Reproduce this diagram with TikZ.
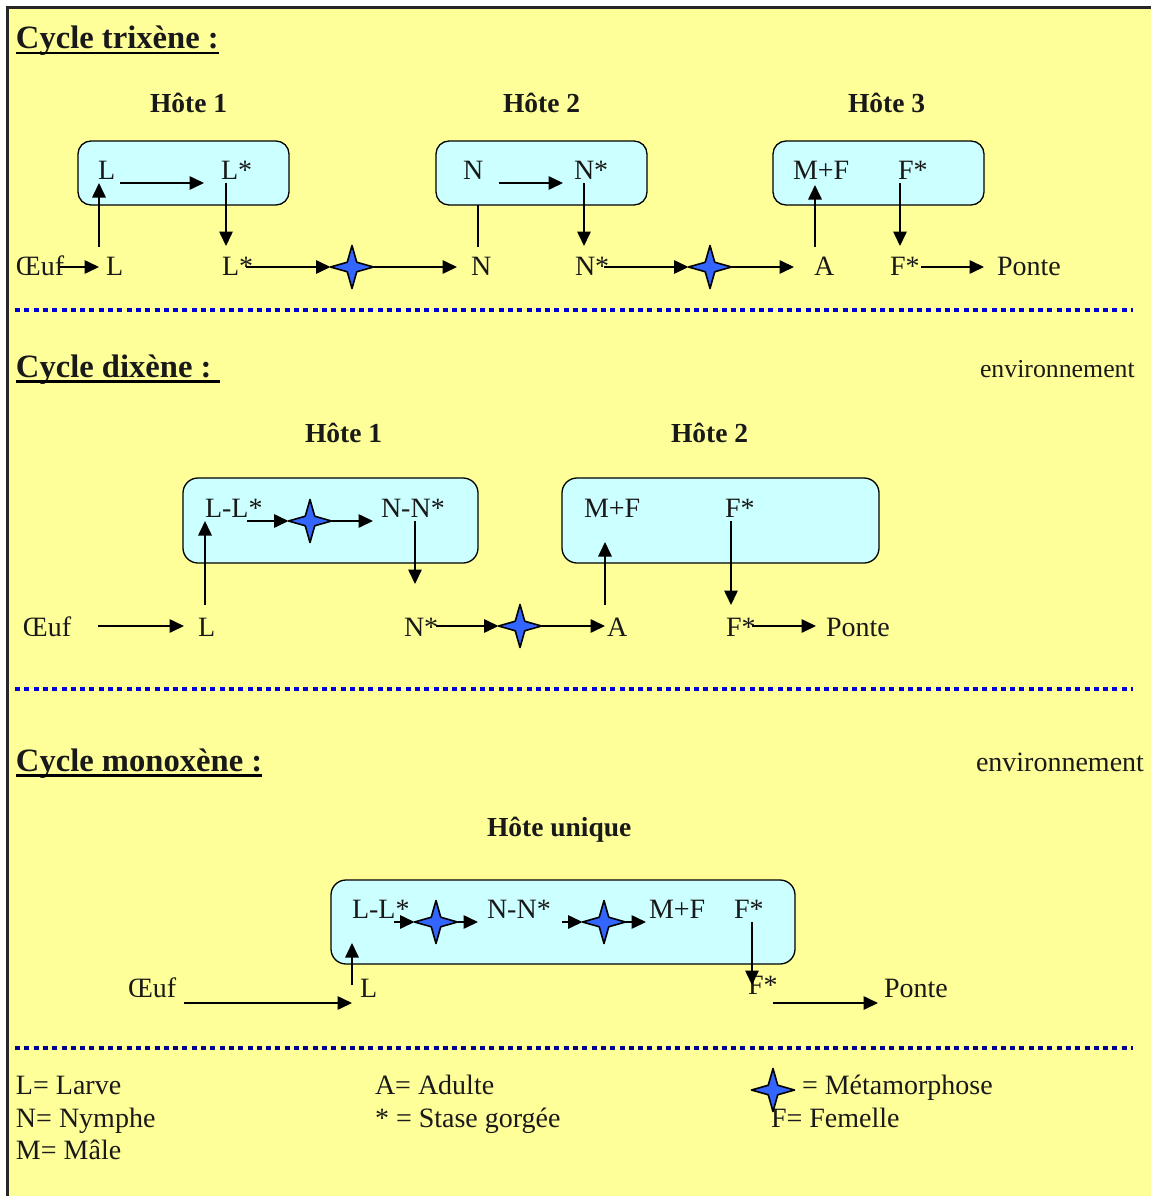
\documentclass[tikz,border=0pt]{standalone}
\usepackage{fontspec}
\setmainfont{Liberation Serif}
\usetikzlibrary{arrows.meta}
\usetikzlibrary{shapes.geometric}
\definecolor{pagefill}{HTML}{FFFF99}
\definecolor{boxfill}{HTML}{CCFFFF}
\definecolor{starfill}{HTML}{3366FF}
\tikzset{
	every node/.style={anchor=base west,inner sep=0pt,outer sep=0pt,text=black!90},
	every path/.style={line width=1.6pt},
	>={Triangle[length=14.5pt,width=13.5pt]},
	txt/.style={font=\fontsize{28}{30}\selectfont},
	hote/.style={font=\fontsize{27.5}{30}\bfseries\selectfont},
	titre/.style={font=\fontsize{32.6}{38}\bfseries\selectfont},
	hostbox/.style={draw,fill=boxfill,rounded corners=13pt,anchor=north west,line width=1.3pt},
	meta/.style={draw=black,fill=starfill,star,star points=4,star point ratio=3.2,minimum size=43pt,anchor=center,line join=round},
	sepline/.style={line width=4pt,draw=blue!85!black,dash pattern=on 5pt off 4.3pt},
}
\begin{document}
\begin{tikzpicture}[x=1pt,y=-1pt]
	\useasboundingbox (0,0) rectangle (1151,1196);
	
	%background.....................
	\fill [pagefill] (7,8) rectangle (1151,1196);
	\draw [line width=3pt,black!85] (7,1196) to (7,8) to (1151,8);
	
	%separators......................
	\draw [sepline] (15,309.5) to (1133,309.5);
	\draw [sepline] (15,689) to (1133,689);
	\draw [sepline,draw=blue!55!black] (15,1048) to (1133,1048);
	
	% trixene titles...................
	\node [titre] (t1) at (16,48.5) {Cycle trixène :};
	\draw [line width=2.4pt] ([shift={(0,4.5)}]t1.base west) to ([shift={(0,4.5)}]t1.base east);
	\node [hote] (h11) at (150,113) {Hôte 1};
	\node [hote] (h12) at (503,113) {Hôte 2};
	\node [hote] (h13) at (848,113) {Hôte 3};
	
	% trixene boxes....................
	\node [hostbox,minimum width=211pt,minimum height=64pt] (b11) at (78,141) {};
	\node [hostbox,minimum width=211pt,minimum height=64pt] (b12) at (436,141) {};
	\node [hostbox,minimum width=211pt,minimum height=64pt] (b13) at (773,141) {};
	
	% trixene labels...................
	\node [txt] (l1) at (98,179) {L};
	\node [txt] (ls1) at (221,179) {L*};
	\node [txt] (n1) at (463,179) {N};
	\node [txt] (ns1) at (574,179) {N*};
	\node [txt] (mf1) at (793,179) {M+F};
	\node [txt] (fs1) at (898,179) {F*};
	\node [txt] (oe1) at (16,275) {Œuf};
	\node [txt] (l2) at (106,275) {L};
	\node [txt] (ls2) at (222,275) {L*};
	\node [txt] (n2) at (471,275) {N};
	\node [txt] (ns2) at (575,275) {N*};
	\node [txt] (a1) at (814,275) {A};
	\node [txt] (fs2) at (890,275) {F*};
	\node [txt] (po1) at (997,275) {Ponte};
	\node [meta] (m1) at (352,267) {};
	\node [meta] (m2) at (710,267) {};
	
	% trixene arrows...................
	\draw [->] ([shift={(22,4)}]l1.base west) to ([shift={(-17,4)}]ls1.base west);
	\draw [->] ([shift={(-7,-28)}]l2.base west) to ([shift={(1,4)}]l1.base west);
	\draw [->] ([shift={(5,4)}]ls1.base west) to ([shift={(4,-29)}]ls2.base west);
	\draw [->] ([shift={(44,-8)}]oe1.base west) to ([shift={(-7,-8)}]l2.base west);
	\draw [->] ([shift={(24,-8)}]ls2.base west) to (m1.west);
	\draw [->] (m1.east) to ([shift={(-14,-8)}]n2.base west);
	\draw ([shift={(7,0)}]b12.south west -| n2.base west) to ([shift={(7,-28)}]n2.base west);
	\draw [->] ([shift={(36,4)}]n1.base west) to ([shift={(-11,4)}]ns1.base west);
	\draw [->] ([shift={(10,4)}]ns1.base west) to ([shift={(9,-29)}]ns2.base west);
	\draw [->] ([shift={(29,-8)}]ns2.base west) to (m2.west);
	\draw [->] (m2.east) to ([shift={(-20,-8)}]a1.base west);
	\draw [->] ([shift={(1,-28)}]a1.base west) to ([shift={(22,6)}]mf1.base west);
	\draw [->] ([shift={(2,4)}]fs1.base west) to ([shift={(10,-29)}]fs2.base west);
	\draw [->] ([shift={(31,-8)}]fs2.base west) to ([shift={(-13,-8)}]po1.base west);
	
	% dixene titles....................
	\node [titre] (t2) at (16,377) {Cycle dixène : };
	\draw [line width=2.4pt] ([shift={(0,4.5)}]t2.base west) to ([shift={(8,4.5)}]t2.base east);
	\node [font=\fontsize{25.8}{30}\selectfont] (env1) at (980,377) {environnement};
	\node [hote] (h21) at (305,442) {Hôte 1};
	\node [hote] (h22) at (671,442) {Hôte 2};
	
	% dixene boxes.....................
	\node [hostbox,rounded corners=15pt,minimum width=295pt,minimum height=85pt] (b21) at (183,478) {};
	\node [hostbox,rounded corners=15pt,minimum width=317pt,minimum height=85pt] (b22) at (562,478) {};
	
	% dixene labels....................
	\node [txt] (ll1) at (205,517) {L-L*};
	\node [txt] (nn1) at (381,517) {N-N*};
	\node [txt] (mf2) at (584,517) {M+F};
	\node [txt] (fs3) at (725,517) {F*};
	\node [txt] (oe2) at (23,636) {Œuf};
	\node [txt] (l3) at (198,636) {L};
	\node [txt] (ns3) at (404,636) {N*};
	\node [txt] (a2) at (607,636) {A};
	\node [txt] (fs4) at (726,636) {F*};
	\node [txt] (po2) at (826,636) {Ponte};
	\node [meta] (m3) at (310,521) {};
	\node [meta] (m4) at (520,626) {};
	
	% dixene arrows....................
	\draw [->] ([shift={(75,-10)}]oe2.base west) to ([shift={(-14,-10)}]l3.base west);
	\draw [->] ([shift={(7,-31)}]l3.base west) to ([shift={(0,4)}]ll1.base west);
	\draw [->] ([shift={(42,4)}]ll1.base west) to (m3.west);
	\draw [->] (m3.east) to ([shift={(-8,4)}]nn1.base west);
	\draw [->] ([shift={(34,4)}]nn1.base west) to ([shift={(11,-52)}]ns3.base west);
	\draw [->] ([shift={(32,-10)}]ns3.base west) to (m4.west);
	\draw [->] (m4.east) to ([shift={(-2,-10)}]a2.base west);
	\draw [->] ([shift={(-2,-31)}]a2.base west) to ([shift={(21,25)}]mf2.base west);
	\draw [->] ([shift={(6,4)}]fs3.base west) to ([shift={(5,-31)}]fs4.base west);
	\draw [->] ([shift={(26,-10)}]fs4.base west) to ([shift={(-10,-10)}]po2.base west);
	
	% monoxene titles..................
	\node [titre] (t3) at (16,771) {Cycle monoxène :};
	\draw [line width=2.4pt] ([shift={(0,4.5)}]t3.base west) to ([shift={(0,4.5)}]t3.base east);
	\node [font=\fontsize{28}{30}\selectfont] (env2) at (976,771) {environnement};
	\node [hote] (h31) at (487,836) {Hôte unique};
	
	% monoxene box.....................
	\node [hostbox,rounded corners=15pt,minimum width=464pt,minimum height=84pt] (b31) at (331,880) {};
	
	% monoxene labels..................
	\node [txt] (ll2) at (352,918) {L-L*};
	\node [txt] (nn2) at (487,918) {N-N*};
	\node [txt] (mf3) at (649,918) {M+F};
	\node [txt] (fs5) at (734,918) {F*};
	\node [txt] (oe3) at (128,997) {Œuf};
	\node [txt] (l4) at (360,997) {L};
	\node [txt] (fs6) at (748,994) {F*};
	\node [txt] (po3) at (884,997) {Ponte};
	\node [meta] (m5) at (436,922) {};
	\node [meta] (m6) at (604,922) {};
	
	% monoxene arrows..................
	\draw [->] ([shift={(42,4)}]ll2.base west) to (m5.west);
	\draw [->] (m5.east) to ([shift={(-9,4)}]nn2.base west);
	\draw [->] ([shift={(75,4)}]nn2.base west) to (m6.west);
	\draw [->] (m6.east) to ([shift={(-3,4)}]mf3.base west);
	\draw [->] ([shift={(-8,-12)}]l4.base west) to ([shift={(0,25)}]ll2.base west);
	\draw [->] ([shift={(56,6)}]oe3.base west) to ([shift={(-8,6)}]l4.base west);
	\draw [->] ([shift={(18,4)}]fs5.base west) to ([shift={(4,-9)}]fs6.base west);
	\draw [->] ([shift={(25,9)}]fs6.base west) to ([shift={(-6,6)}]po3.base west);
	
	% legend...........................
	\node [txt] (k1) at (16,1094) {L= Larve};
	\node [txt] (k2) at (16,1127) {N= Nymphe};
	\node [txt] (k3) at (16,1159) {M= Mâle};
	\node [txt] (k4) at (375,1094) {A= Adulte};
	\node [txt] (k5) at (375,1127) {* = Stase gorgée};
	\node [txt] (k6) at (771,1127) {F= Femelle};
	\node [meta] (m7) at (773,1090) {};
	\node [txt] (k7) at (802,1094) {= Métamorphose};
\end{tikzpicture}
\end{document}
